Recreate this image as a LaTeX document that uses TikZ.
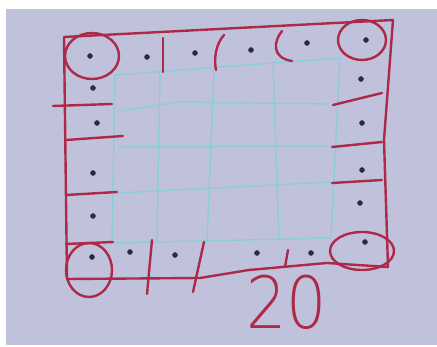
\documentclass[tikz,border=0pt]{standalone}
\usepackage{tikz}
\usepackage{tkz-euclide}
\usepackage{fontspec}
\newfontfamily\handfont{DejaVu Sans ExtraLight}
\definecolor{board}{RGB}{192,194,220}
\definecolor{marker}{RGB}{172,42,72}
\definecolor{pale}{RGB}{140,205,216}
\definecolor{pen}{RGB}{50,40,62}
\tikzset{ink/.style={marker, line width=2.4pt, line cap=round, line join=round},
  grid/.style={pale, line width=1.4pt, line cap=round}}

\begin{document}
\begin{tikzpicture}[x=1pt,y=-1pt]
            \useasboundingbox (0,0) rectangle (437,347);
            \fill[white] (0,0) rectangle (437,347);
            \fill[board] (6,9) rectangle (437,345);
            \tkzDefPoints{64/37/A, 393/20/B, 384/140/R, 388/267/C, 327/263/G, 249/270/F, 200/278/E, 67/279/D}
            \tkzDefPoints{115/75/P1, 112/243/P2, 160/72/P3, 157/242/P4, 214/70/P5, 207/243/P6, 273/62/P7, 279/240/P8, 340/58/P9, 331/238/P10}
            \tkzDefPoints{123/111/Q1, 177/102/Q2, 328/104/Q3, 118/147/Q4, 332/146/Q5, 118/193/Q6, 332/182/Q7}
            \tkzDefPoints{163/38/T1, 163/72/T2, 53/106/L1, 112/104/L2, 66/140/L3, 123/136/L4, 66/195/L5, 117/192/L6, 66/244/L7, 113/242/L8}
            \tkzDefPoints{333/105/M1, 382/93/M2, 332/147/M3, 382/142/M4, 332/183/M5, 382/180/M6}
            \tkzDefPoints{152/240/N1, 147/294/N2, 204/242/N3, 193/292/N4, 288/250/N5, 285/267/N6}
            \tkzDefPoints{92/56/O1, 362/40/O2, 89/270/O3, 362/251/O4}
            \tkzDefPoints{90/56/c1, 147/57/c2, 195/53/c3, 251/50/c4, 307/43/c5, 366/40/c6, 93/88/c7, 97/123/c8, 93/173/c9, 93/216/c10}
            \tkzDefPoints{361/79/c11, 362/123/c12, 362/170/c13, 360/203/c14, 92/257/c15, 130/252/c16, 175/255/c17, 257/253/c18, 311/253/c19, 365/242/c20}
            \tkzDrawSegments[grid](P1,P2 P3,P4 P5,P6 P7,P8 P9,P10 P1,P9 Q1,Q2 Q2,Q3 Q4,Q5 Q6,Q7 P2,P10)
            \tkzDrawPolygon[ink](A,B,R,C,G,F,E,D)
            \tkzDrawSegments[ink](T1,T2 L1,L2 L3,L4 L5,L6 L7,L8 M1,M2 M3,M4 M5,M6 N1,N2 N3,N4 N5,N6)
            \draw[ink] (224,35) .. controls (215,45) and (214,60) .. (216,70);
            \draw[ink] (282,31) .. controls (273,42) and (272,58) .. (292,61);
            \draw[ink] (O1) ellipse [x radius=27pt, y radius=23pt];
            \draw[ink] (O2) ellipse [x radius=24pt, y radius=20pt];
            \draw[ink] (O3) ellipse [x radius=23pt, y radius=27pt];
            \draw[ink] (O4) ellipse [x radius=32pt, y radius=19pt];
            \tkzDrawPoints[fill=pen, color=pen, size=5](c1,c2,c3,c4,c5,c6,c7,c8,c9,c10,c11,c12,c13,c14,c15,c16,c17,c18,c19,c20)
            \node[marker, inner sep=0pt, anchor=base, font=\handfont\fontsize{72}{72}\selectfont, xscale=0.88] (count) at (287,329) {20};
        \end{tikzpicture}
\end{document}
